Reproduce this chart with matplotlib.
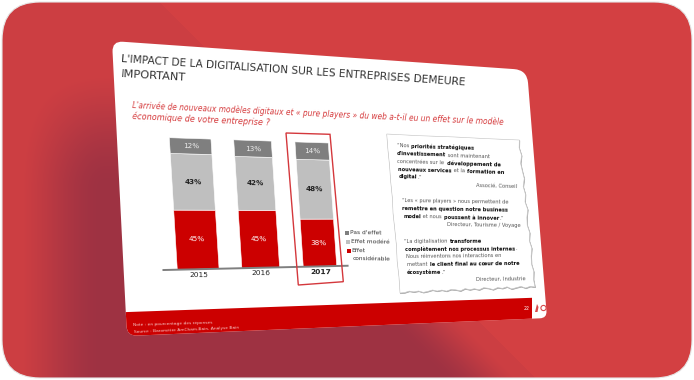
import numpy as np
import matplotlib
matplotlib.use("Agg")
import matplotlib.pyplot as plt
from matplotlib.patches import FancyBboxPatch, PathPatch, Polygon
from matplotlib.path import Path
from matplotlib.transforms import Transform

# chart values
years = ["2015", "2016", "2017"]
effet_considerable = [45, 45, 38]
effet_modere = [43, 42, 48]
pas_effet = [12, 13, 14]
legend_labels = ["Pas d'effet", "Effet modéré", "Effet\nconsidérable"]

title_lines = ["L'IMPACT DE LA DIGITALISATION SUR LES ENTREPRISES DEMEURE", "IMPORTANT"]
question_lines = ["L'arrivée de nouveaux modèles digitaux et « pure players » du web a-t-il eu un effet sur le modèle",
                  "économique de votre entreprise ?"]
note_lines = ["Note : en pourcentage des réponses", "Source : Baromètre AmCham-Bain, Analyse Bain"]

# quote lines: (x, y, rotation, [(text, bold), ...])
quote_lines = [
    (396.7, 146, -1.6, [("\u201cNos ", 0), ("priorités stratégiques", 1)]),
    (396.9, 154, -1.6, [("d'investissement", 1), (" sont maintenant", 0)]),
    (397.3, 161.7, -1.6, [("concentrées sur le ", 0), ("développement de", 1)]),
    (398.3, 169.3, -1.6, [("nouveaux services", 1), (" et la ", 0), ("formation en", 1)]),
    (399.3, 177, -1.6, [("digital", 1), (".\u201d", 0)]),
    (401.7, 200.7, -0.9, [("\u201cLes « pure players » nous permettent de", 0)]),
    (402.3, 209, -0.9, [("remettre en question notre business", 1)]),
    (403.3, 216.7, -0.9, [("model", 1), (" et nous ", 0), ("poussent à innover", 1), (".\u201d", 0)]),
    (404.3, 241.7, 0.5, [("\u201cLa digitalisation ", 0), ("transforme", 1)]),
    (405.3, 249.3, 0.2, [("complètement nos processus internes", 1), (".", 0)]),
    (406, 257, 0.6, [("Nous réinventons nos interactions en", 0)]),
    (406.7, 265, 0.7, [("mettant ", 0), ("le client final au cœur de notre", 1)]),
    (406.7, 272.7, 0.2, [("écosystème", 1), (".\u201d", 0)]),
]
quote_sources = [
    (517.3, 186, -1.5, "Associé, Conseil"),
    (520.7, 225.3, -0.8, "Directeur, Tourisme / Voyage"),
    (525.7, 279, 0.8, "Directeur, Industrie"),
]

RED = "#cc0000"
LIGHT = "#bfbfbf"
DARK = "#7f7f7f"
BASE = np.array([211, 64, 66]) / 255
SHADE = np.array([158, 50, 66]) / 255


class Persp(Transform):
    input_dims = 2
    output_dims = 2
    is_separable = False
    has_inverse = False

    def __init__(self, src, dst):
        super().__init__()
        rows = []
        for (x, y), (u, v) in zip(src, dst):
            rows.append([x, y, 1, 0, 0, 0, -u * x, -u * y, -u])
            rows.append([0, 0, 0, x, y, 1, -v * x, -v * y, -v])
        self.h = np.linalg.svd(np.array(rows))[2][-1].reshape(3, 3)

    def transform_non_affine(self, values):
        values = np.asarray(values, float)
        p = np.column_stack([values, np.ones(len(values))]) @ self.h.T
        return p[:, :2] / p[:, 2:]


def rounded(corners, radii):
    verts, codes = [], []
    n = len(corners)
    for i, (c, r) in enumerate(zip(corners, radii)):
        c = np.array(c, float)
        a = np.array(corners[i - 1], float)
        b = np.array(corners[(i + 1) % n], float)
        p0 = c + (a - c) / np.linalg.norm(a - c) * r
        p1 = c + (b - c) / np.linalg.norm(b - c) * r
        verts += [p0, c, p1]
        codes += [Path.LINETO if i else Path.MOVETO, Path.CURVE3, Path.CURVE3]
    verts.append(verts[0])
    codes.append(Path.CLOSEPOLY)
    return Path(verts, codes)


def torn(p0, p1, offs):
    p0, p1 = np.array(p0, float), np.array(p1, float)
    d = p1 - p0
    nrm = np.array([-d[1], d[0]]) / np.linalg.norm(d)
    ts = np.linspace(0, 1, len(offs))
    return [p0 + d * t + nrm * o for t, o in zip(ts, offs)]


def rich(ax, x, y, parts, size, rot):
    r = ax.figure.canvas.get_renderer()
    a = np.radians(rot)
    for txt, bold in parts:
        t = ax.text(x, y, txt, fontsize=size, rotation=0, rotation_mode="anchor", va="center", ha="left",
                    color="#111111" if bold else "#555555", fontweight="bold" if bold else "normal", zorder=6)
        w = t.get_window_extent(r).width
        # a bit of room after a trailing space
        if txt.endswith(" "):
            w += 0.8
        t.set_rotation(rot)
        x += w * np.cos(a)
        y -= w * np.sin(a)


fig = plt.figure(figsize=(6.94, 3.8), dpi=100, facecolor="white")
ax = fig.add_axes([0, 0, 1, 1])
ax.axis("off")

# background card with the long shadow of the slide
yy, xx = np.mgrid[0:380, 0:694] + 0.5


def smooth(v, a, b):
    t = np.clip((v - a) / (b - a), 0, 1)
    return t * t * (3 - 2 * t)


diag = 158 - (xx - yy)
shade = smooth(xx, 0, 105) * smooth(yy, 45, 190) * smooth(diag, 0, 95)
shade = np.maximum(shade, 0.13 * (diag > 0))
img = BASE + (SHADE - BASE) * shade[..., None]
im = ax.imshow(img, extent=[0, 694, 380, 0], aspect="auto", zorder=0)
card = FancyBboxPatch((2, 2), 690, 376, boxstyle="round,pad=0,rounding_size=38", fc="none", ec="#e6e6e6", lw=0.8, zorder=1)
ax.add_patch(card)
im.set_clip_path(card)

# slide
slide_corners = [(112, 41), (527, 70), (547, 318), (127, 336)]
slide_path = rounded(slide_corners, [11, 13, 7, 10])
slide = PathPatch(slide_path, fc="white", ec="none", zorder=2)
ax.add_patch(slide)
footer = Polygon([(120, 312.3), (532, 297.8), (532, 325), (120, 340)], fc=RED, ec="none", zorder=3)
ax.add_patch(footer)
footer.set_clip_path(slide_path, ax.transData)

# title and question
ax.text(121.5, 58.8, title_lines[0], fontsize=7.55, rotation=-3.9, rotation_mode="anchor", va="center", color="#333333", zorder=5)
ax.text(121.5, 74, title_lines[1], fontsize=8.2, rotation=-3.4, rotation_mode="anchor", va="center", color="#333333", zorder=5)
ax.text(132, 105, question_lines[0], fontsize=5.45, rotation=-2.6, rotation_mode="anchor", va="center", style="italic", color="#d5393b", zorder=5)
ax.text(132, 116, question_lines[1], fontsize=5.9, rotation=-2.7, rotation_mode="anchor", va="center", style="italic", color="#d5393b", zorder=5)

# stacked bars, data coordinates are (year index, percent)
w_first, w_last = 0.65, 0.58
chart = Persp([(-w_first / 2, 100), (2 + w_last / 2, 100), (2 + w_last / 2, 0), (-w_first / 2, 0)],
              [(169.3, 137.7), (328.3, 143), (336.7, 266), (177.3, 269.7)]) + ax.transData
x = np.arange(len(years))
widths = [w_first, 0.62, w_last]
bottom = np.zeros(3)
series = [(effet_considerable, RED, "white"), (effet_modere, LIGHT, "#222222"), (pas_effet, DARK, "#eeeeee")]
for vals, col, tcol in series:
    ax.bar(x, vals, width=widths, bottom=bottom, color=col, edgecolor="white", linewidth=0.4, transform=chart, zorder=4)
    for i, v in enumerate(vals):
        ax.text(i, bottom[i] + v / 2, f"{v}%", transform=chart, ha="center", va="center", fontsize=5.2, color=tcol,
                rotation=-1, fontweight="bold" if col == LIGHT else "normal", zorder=6)
    bottom += np.array(vals)

ax.plot([-0.55, 2.5], [0, 0], color=DARK, lw=1.4, transform=chart, zorder=5, solid_capstyle="butt")
for i, yr in enumerate(years):
    ax.text(i, -4.2, yr, transform=chart, ha="center", va="center", fontsize=5.4, color="#222222",
            fontweight="bold" if i == 2 else "normal", rotation=-0.5, zorder=6)

# highlight around 2017
ax.add_patch(Polygon([(286, 133), (330, 134.3), (343.3, 281.7), (298.3, 285)], closed=True, fc="none", ec="#d4383c", lw=1.0, zorder=6))

# legend
legend_pos = [(350, 233), (350.7, 241.5), (351.7, 250.8)]
legend_cols = [DARK, LIGHT, RED]
for (lx, ly), lab, col in zip(legend_pos, legend_labels, legend_cols):
    ax.scatter([lx - 2.8], [ly], marker="s", s=6, color=col, linewidths=0, zorder=6)
    ax.text(lx, ly, lab.split("\n")[0], fontsize=4.2, va="center", color="#333333", rotation=-1, rotation_mode="anchor", zorder=6)
ax.text(352.2, 258.5, legend_labels[2].split("\n")[1], fontsize=4.2, va="center", color="#333333", rotation=-1, rotation_mode="anchor", zorder=6)

# torn paper with the quotes
top = torn((386.7, 134), (519.3, 140), [0, 0.2, -0.1, 0.1, 0])
right = torn((519.3, 140), (535, 287), [0, 1, -0.6, 1.2, 0.3, -0.8, 1.1, -0.3, 0.9, -1, 0.7, 1.2, -0.5, 0.8, -0.9, 0.6, 1.1, -0.4, 0.7, 0])
bottom_edge = torn((535, 287), (400, 293), [0, 0.9, -0.6, 1.2, 0.2, -0.9, 1.4, 0.1, 1.1, -0.7, 0.8, 1.6, -0.3, 1.0, 0.2, 1.5, -0.5,
                                            0.7, 1.3, -0.2, 1.1, 0.3, 1.6, 0.4, -0.4, 1.2, 0.5, 1.5, 0.2, 0])
left = torn((400, 293), (386.7, 134), [0, 0.3, -0.2, 0.4, 0.1, -0.3, 0.3, 0, 0.2, -0.1, 0])
paper = np.vstack([top, right, bottom_edge, left])
ax.add_patch(Polygon(paper + [0.5, 0.7], closed=True, fc="#b5b5b5", ec="#a5a5a5", lw=0.5, zorder=4))
ax.add_patch(Polygon(paper, closed=True, fc="white", ec="#c4c4c4", lw=0.4, zorder=4))
fig.canvas.draw()
for qx, qy, rot, parts in quote_lines:
    rich(ax, qx, qy, parts, 3.7, rot)
for qx, qy, rot, txt in quote_sources:
    ax.text(qx, qy, txt, fontsize=3.7, ha="right", va="center", rotation=rot, rotation_mode="anchor", color="#555555", zorder=6)

# footer texts and logo
ax.text(133, 325.2, note_lines[0], fontsize=3.2, rotation=1.7, rotation_mode="anchor", va="center", color="#f6c8c8", zorder=6)
ax.text(134, 331.8, note_lines[1], fontsize=3.2, rotation=2.4, rotation_mode="anchor", va="center", color="#f6c8c8", zorder=6)
ax.text(527, 308.5, "22", fontsize=3.3, ha="center", va="center", color="white", zorder=6)
ax.scatter([543.5], [308], s=14, facecolors="none", edgecolors="#d8484a", linewidths=0.8, zorder=6)
ax.add_patch(Polygon([(535, 312), (537, 304), (538.5, 307), (537.5, 312)], closed=True, fc="#d8484a", ec="none", zorder=6))

ax.set_xlim(0, 694)
ax.set_ylim(380, 0)
fig.savefig("out.png", dpi=100, facecolor="white")
